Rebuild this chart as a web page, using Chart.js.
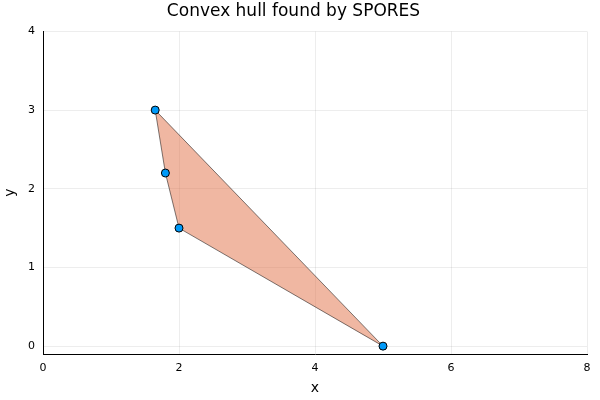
<!DOCTYPE html>
<html>
<head>
<meta charset="utf-8">
<script src="https://cdn.jsdelivr.net/npm/chart.js@4/dist/chart.umd.min.js"></script>
<style>
  html, body { margin: 0; padding: 0; background: #fff; }
  #wrap { width: 600px; height: 400px; }
</style>
</head>
<body>
<div id="wrap"><canvas id="hullChart"></canvas></div>
<script>
// SPORES convex hull — points and hull order
const pointX = [1.65, 1.8, 2.0, 5.0];
const pointY = [3.0, 2.2, 1.5, 0.0];
const hullX = [1.65, 5.0, 2.0, 1.8, 1.65];
const hullY = [3.0, 0.0, 1.5, 2.2, 3.0];
const xTicks = [0, 2, 4, 6, 8];
const yTicks = [0, 1, 2, 3, 4];

const FONT = "'DejaVu Sans', sans-serif";
const GRID = "rgba(0,0,0,0.07)";

const toPts = (xs, ys) => xs.map((x, i) => ({ x, y: ys[i] }));

new Chart(document.getElementById("hullChart"), {
  type: "scatter",
  data: {
    datasets: [
      {
        label: "points",
        data: toPts(pointX, pointY),
        backgroundColor: "#009af9",
        borderColor: "#000",
        borderWidth: 1,
        pointRadius: 4,
        order: 0,
      },
      {
        label: "hull",
        data: toPts(hullX, hullY),
        showLine: true,
        fill: "shape",
        backgroundColor: "rgba(226,111,70,0.5)",
        borderColor: "rgba(0,0,0,0.5)",
        borderWidth: 1,
        pointRadius: 0,
        tension: 0,
        order: 1,
      },
    ],
  },
  options: {
    responsive: true,
    maintainAspectRatio: false,
    animation: false,
    layout: { padding: { left: 0, right: 13, top: 0, bottom: 0 } },
    plugins: {
      legend: { display: false },
      tooltip: { enabled: false },
      title: {
        display: true,
        text: "Convex hull found by SPORES",
        color: "#000",
        font: { family: FONT, size: 17, weight: "normal" },
        padding: { top: 1, bottom: 10 },
      },
    },
    scales: {
      x: {
        type: "linear",
        min: 0,
        max: 8,
        afterBuildTicks: s => { s.ticks = xTicks.map(v => ({ value: v })); },
        afterFit: s => { s.height = 46; },
        ticks: { color: "#000", font: { family: FONT, size: 11 }, padding: 8 },
        grid: { color: GRID, drawTicks: false },
        border: { color: "#000", width: 1 },
        title: { display: true, text: "x", color: "#000", font: { family: FONT, size: 14 }, padding: { top: 0, bottom: 3 } },
      },
      y: {
        type: "linear",
        min: -0.1,
        max: 4,
        afterBuildTicks: s => { s.ticks = yTicks.map(v => ({ value: v })); },
        afterFit: s => { s.width = 43; },
        ticks: { color: "#000", font: { family: FONT, size: 11 }, padding: 8 },
        grid: { color: GRID, drawTicks: false },
        border: { color: "#000", width: 1 },
        title: { display: true, text: "y", color: "#000", font: { family: FONT, size: 14 }, padding: 2 },
      },
    },
  },
});
</script>
</body>
</html>
